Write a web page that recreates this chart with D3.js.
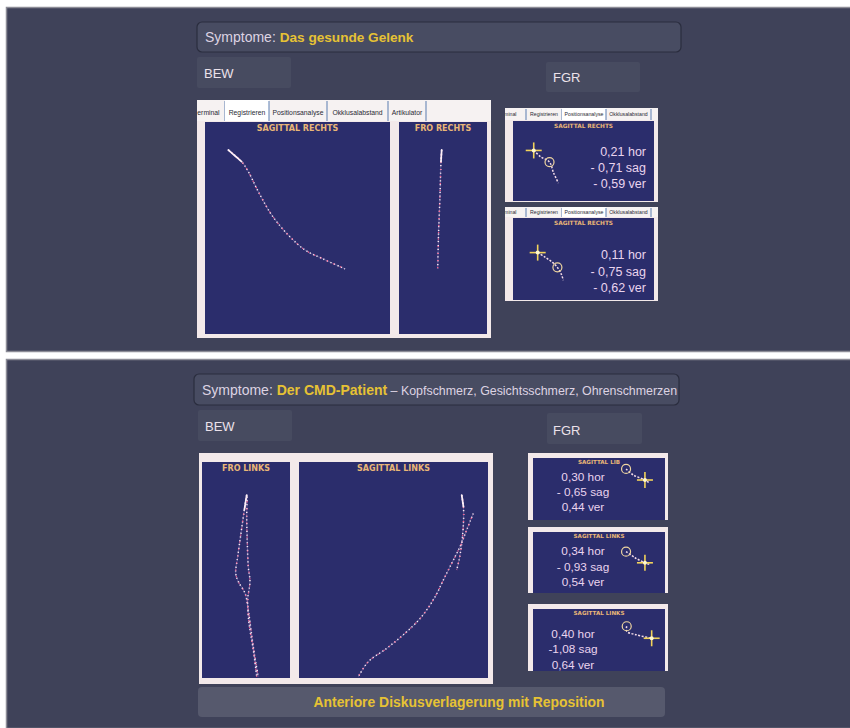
<!DOCTYPE html>
<html><head><meta charset="utf-8">
<script src="https://cdn.jsdelivr.net/npm/d3@7"></script>
<style>body{margin:0;background:#fff}svg{display:block}</style>
</head><body><svg id="c" width="850" height="728"></svg>
<script>
// ---------------- DATA ----------------
const titleTop = ["Symptome: ", "Das gesunde Gelenk", ""];
const titleBottom = ["Symptome: ", "Der CMD-Patient", " \u2013 Kopfschmerz, Gesichtsschmerz, Ohrenschmerzen"];
const boxLabels = ["BEW", "FGR"];
const tabsMain = ["erminal", "Registrieren", "Positionsanalyse", "Okklusalabstand", "Artikulator"];
const tabsSmall = ["erminal", "Registrieren", "Positionsanalyse", "Okklusalabstand", "A"];
const plotTitlesTop = ["SAGITTAL RECHTS", "FRO RECHTS"];
const plotTitlesBottom = ["FRO LINKS", "SAGITTAL LINKS"];
const diagnosis = "Anteriore Diskusverlagerung mit Reposition";

// traces (plot units 0..100, x left->right, y top->bottom)
const sagRechtsX = [12.6, 19.8, 23.4, 28.8, 36.1, 45.0, 54.1, 63.1, 75.7];
const sagRechtsY = [13.2, 18.7, 23.4, 32.8, 43.9, 53.3, 60.4, 64.3, 69.3];
const froRechtsX = [48.5, 47.7, 46.6, 44.9, 44.0];
const froRechtsY = [13.2, 18.7, 34.4, 53.3, 69.0];
const froLinksAX = [50.8, 48.1, 44.3, 40.6, 38.3, 41.3, 48.9, 52.6, 55.7, 59.4, 63.9];
const froLinksAY = [15.3, 22.2, 33.0, 43.8, 51.5, 55.4, 60.8, 68.5, 77.8, 88.6, 99.4];
const froLinksBX = [51.5, 50.8, 51.5, 52.6, 54.5, 51.9, 53.4, 58.3, 62.2];
const froLinksBY = [16.0, 25.3, 37.6, 48.5, 55.4, 63.9, 74.7, 87.0, 99.4];
const sagLinksAX = [86.1, 87.0, 87.0, 86.1, 84.7, 83.4];
const sagLinksAY = [15.3, 20.7, 28.4, 37.6, 45.4, 50.0];
const sagLinksBX = [92.2, 88.7, 85.2, 80.8, 76.4, 72.0, 64.9, 56.1, 46.4, 36.7, 31.4];
const sagLinksBY = [23.8, 31.5, 39.2, 46.9, 54.6, 62.4, 71.6, 79.3, 86.3, 92.4, 99.4];

// FGR glyphs (plot units), with index of cross point and circle point
const fgrTopTitles = ["SAGITTAL RECHTS", "SAGITTAL RECHTS"];
const fgrTopReadings = [["0,21 hor", "- 0,71 sag", "- 0,59 ver"], ["0,11 hor", "- 0,75 sag", "- 0,62 ver"]];
const fgrTopGlyphX = [[14.7, 19.6, 25.9, 28.7, 32.2], [17.5, 23.1, 28.0, 31.5, 34.3, 35.7]];
const fgrTopGlyphY = [[36.8, 44.7, 51.3, 64.5, 77.6], [42.2, 48.2, 54.2, 60.2, 68.7, 75.9]];
const fgrTopCross = [0, 0];
const fgrTopCircle = [2, 3];

const fgrBottomTitles = ["SAGITTAL LIB", "SAGITTAL LINKS", "SAGITTAL LINKS"];
const fgrBottomReadings = [["0,30 hor", "- 0,65 sag", "0,44 ver"], ["0,34 hor", "- 0,93 sag", "0,54 ver"], ["0,40 hor", "-1,08 sag", "0,64 ver"]];
const fgrBottomGlyphX = [[70.5, 76.0, 84.8, 88.6], [70.5, 77.3, 84.8, 88.6], [71.0, 71.0, 78.5, 89.9]];
const fgrBottomGlyphY = [[17.7, 27.4, 35.5, 40.8], [32.2, 42.2, 50.5, 53.3], [27.8, 36.1, 41.7, 47.2]];
const fgrBottomCross = [2, 2, 3];
const fgrBottomCircle = [0, 0, 0];

// ---------------- DRAW ----------------
const svg = d3.select("#c");
const F = "'Liberation Sans', Arial, Helvetica, sans-serif";
const BG = "#3f4259", BLUE = "#2b2d6c", FRAME = "#f3e9ea", LIGHT = "#ddd3e2", YEL = "#e6c234", PT = "#e9b677", RD = "#ead4ee";

function panel(y0, y1) {
  svg.append("rect").attr("x", 6.5).attr("y", y0 + 0.5).attr("width", 850).attr("height", y1 - y0)
    .attr("fill", BG).attr("stroke", "#8c8c96").attr("stroke-width", 1.5);
}
function titleBox(x0, y0, x1, y1, parts, tx, ty, fsBold, fsTail) {
  svg.append("rect").attr("x", x0).attr("y", y0).attr("width", x1 - x0).attr("height", y1 - y0).attr("rx", 5)
    .attr("fill", "#484c62").attr("stroke", "#2a2d3e").attr("stroke-width", 1.2);
  const t = svg.append("text").attr("x", tx).attr("y", ty).attr("font-family", F).attr("font-size", 14);
  t.append("tspan").attr("fill", LIGHT).text(parts[0]);
  t.append("tspan").attr("fill", YEL).attr("font-weight", "bold").attr("font-size", fsBold).text(parts[1]);
  if (parts[2]) t.append("tspan").attr("fill", LIGHT).attr("font-size", fsTail).text(parts[2]);
}
function labelBox(x0, y0, x1, y1, label, tx, ty) {
  svg.append("rect").attr("x", x0).attr("y", y0).attr("width", x1 - x0).attr("height", y1 - y0).attr("rx", 2)
    .attr("fill", "#474b60");
  svg.append("text").attr("x", tx).attr("y", ty).attr("font-family", F).attr("font-size", 13)
    .attr("fill", "#ece2ea").text(label);
}
function tabBar(x0, y0, x1, y1, tabs, bounds, sel, fs) {
  const cid = "clip" + Math.round(x0) + "_" + Math.round(y0);
  svg.append("clipPath").attr("id", cid).append("rect").attr("x", x0).attr("y", y0).attr("width", x1 - x0).attr("height", y1 - y0);
  const g = svg.append("g").attr("clip-path", "url(#" + cid + ")");
  g.append("rect").attr("x", x0).attr("y", y0).attr("width", x1 - x0).attr("height", y1 - y0).attr("fill", "#f6f2f2");
  tabs.forEach((t, i) => {
    const a = bounds[i], b = bounds[i + 1];
    if (i === sel) g.append("rect").attr("x", a).attr("y", y0).attr("width", b - a).attr("height", y1 - y0).attr("fill", "#ffffff");
    g.append("text").attr("x", (a + b) / 2).attr("y", y1 - (y1 - y0) * 0.3).attr("text-anchor", "middle")
      .attr("font-family", F).attr("font-size", fs).attr("fill", "#2a2a34").text(t);
    g.append("line").attr("x1", b).attr("x2", b).attr("y1", y0 + 1).attr("y2", y1).attr("stroke", "#5a7cb0").attr("stroke-width", 1);
  });
}
function plot(x0, y0, x1, y1) {
  svg.append("rect").attr("x", x0).attr("y", y0).attr("width", x1 - x0).attr("height", y1 - y0).attr("fill", BLUE);
  return {
    xs: d3.scaleLinear().domain([0, 100]).range([x0, x1]),
    ys: d3.scaleLinear().domain([0, 100]).range([y0, y1]),
    x0, x1, y0, y1
  };
}
function plotTitle(p, text, fs, dy) {
  svg.append("text").attr("x", (p.x0 + p.x1) / 2).attr("y", p.y0 + dy).attr("text-anchor", "middle")
    .attr("font-family", "'DejaVu Sans', sans-serif").attr("font-weight", "bold").attr("font-size", fs)
    .attr("fill", PT).text(text);
}
function trace(p, xs, ys, head) {
  const pts = xs.map((v, i) => [v, ys[i]]);
  const line = d3.line().x(d => p.xs(d[0])).y(d => p.ys(d[1])).curve(d3.curveCatmullRom);
  const d = line(pts);
  svg.append("path").attr("d", d).attr("fill", "none").attr("stroke", "#a88ac8").attr("stroke-opacity", 0.4).attr("stroke-width", 1);
  svg.append("path").attr("d", d).attr("fill", "none").attr("stroke", "#fbeaf4").attr("stroke-width", 1.5).attr("stroke-dasharray", "1.2 2.6");
  svg.append("path").attr("d", d).attr("fill", "none").attr("stroke", "#ff5a8c").attr("stroke-width", 1.3).attr("stroke-dasharray", "1 6").attr("stroke-dashoffset", 2);
  if (head) {
    svg.append("path").attr("d", line(pts.slice(0, 2))).attr("fill", "none").attr("stroke", "#fff0f8")
      .attr("stroke-width", 1.8).attr("stroke-dasharray", "2.5 0.8").attr("stroke-linecap", "round");
  }
}
function glyph(p, gx, gy, ci, oi) {
  const pts = gx.map((v, i) => [v, gy[i]]);
  const line = d3.line().x(d => p.xs(d[0])).y(d => p.ys(d[1])).curve(d3.curveCatmullRom);
  svg.append("path").attr("d", line(pts)).attr("fill", "none").attr("stroke", "#f4dce8").attr("stroke-width", 1.5).attr("stroke-dasharray", "2 1.5");
  const cx = p.xs(gx[ci]), cy = p.ys(gy[ci]);
  svg.append("line").attr("x1", cx - 8).attr("x2", cx + 8).attr("y1", cy).attr("y2", cy).attr("stroke", "#f2d25a").attr("stroke-width", 1.6);
  svg.append("line").attr("x1", cx).attr("x2", cx).attr("y1", cy - 8).attr("y2", cy + 8).attr("stroke", "#f2d25a").attr("stroke-width", 1.6);
  svg.append("circle").attr("cx", cx).attr("cy", cy).attr("r", 2).attr("fill", "#fff8d0");
  svg.append("circle").attr("cx", p.xs(gx[oi])).attr("cy", p.ys(gy[oi])).attr("r", 4.5).attr("fill", "none")
    .attr("stroke", "#f0d6a0").attr("stroke-width", 1.2);
}
function readings(lines, x, ys, anchor, fs) {
  lines.forEach((l, i) => svg.append("text").attr("x", x).attr("y", ys[i]).attr("text-anchor", anchor)
    .attr("font-family", F).attr("font-size", fs).attr("fill", RD).text(l));
}
function frame(x0, y0, x1, y1) {
  svg.append("rect").attr("x", x0).attr("y", y0).attr("width", x1 - x0).attr("height", y1 - y0).attr("fill", FRAME);
}

// ===== TOP PANEL =====
panel(7, 351);
titleBox(197, 22, 681, 52, titleTop, 205, 42, 13.6, 14);
labelBox(197, 57, 291, 88, boxLabels[0], 204, 78);
labelBox(546, 62, 640, 92, boxLabels[1], 553, 82);

// main BEW window
frame(197, 100, 491, 338);
tabBar(197, 100, 491, 121, tabsMain, [192, 225, 269, 327, 388, 426], 1, 6.8);
const pTS = plot(205, 122, 390, 334);
plotTitle(pTS, plotTitlesTop[0], 8, 9);
trace(pTS, sagRechtsX, sagRechtsY, true);
const pTF = plot(399, 122, 487, 334);
plotTitle(pTF, plotTitlesTop[1], 8, 9);
trace(pTF, froRechtsX, froRechtsY, true);

// FGR windows top
const topWin = [[108, 121, 201], [207, 218, 300]];
const topReadY = [[156, 172, 188], [259, 276, 292]];
topWin.forEach((w, i) => {
  frame(505, w[0], 658, w[2] + 1);
  tabBar(505, w[0], 658, w[1] - 1, tabsSmall, [490, 526, 562, 606, 651, 680], 2, 5.2);
  const p = plot(513, w[1], 654, w[2]);
  plotTitle(p, fgrTopTitles[i], 5.8, 7);
  glyph(p, fgrTopGlyphX[i], fgrTopGlyphY[i], fgrTopCross[i], fgrTopCircle[i]);
  readings(fgrTopReadings[i], 646, topReadY[i], "end", 12.5);
});

// ===== BOTTOM PANEL =====
panel(359, 728);
titleBox(194, 374, 679, 405, titleBottom, 202, 395, 14, 12.4);
labelBox(198, 410, 292, 441, boxLabels[0], 205, 431);
labelBox(547, 413, 642, 444, boxLabels[1], 553, 435);

// main BEW window
frame(199, 453, 493, 684);
const pBF = plot(202, 462, 290, 678);
plotTitle(pBF, plotTitlesBottom[0], 8, 9);
trace(pBF, froLinksAX, froLinksAY, true);
trace(pBF, froLinksBX, froLinksBY, false);
const pBS = plot(299, 462, 488, 678);
plotTitle(pBS, plotTitlesBottom[1], 8, 9);
trace(pBS, sagLinksAX, sagLinksAY, true);
trace(pBS, sagLinksBX, sagLinksBY, false);

// FGR windows bottom
const botWin = [[453, 458, 520], [527, 532, 593], [604, 609, 671]];
const botReadY = [[481, 496, 511], [555, 571, 586], [637.5, 652.5, 668.5]];
const botReadX = [583, 583, 573];
botWin.forEach((w, i) => {
  frame(528, w[0], 668, w[2]);
  const p = plot(533, w[1], 665, w[2]);
  plotTitle(p, fgrBottomTitles[i], 5.6, 5.5);
  glyph(p, fgrBottomGlyphX[i], fgrBottomGlyphY[i], fgrBottomCross[i], fgrBottomCircle[i]);
  readings(fgrBottomReadings[i], botReadX[i], botReadY[i], "middle", 11.8);
});

// diagnosis bar
svg.append("rect").attr("x", 198).attr("y", 687).attr("width", 467).attr("height", 30).attr("rx", 4).attr("fill", "#56596d");
svg.append("text").attr("x", 459).attr("y", 707).attr("text-anchor", "middle").attr("font-family", F)
  .attr("font-weight", "bold").attr("font-size", 13.9).attr("fill", YEL).text(diagnosis);
</script></body></html>
